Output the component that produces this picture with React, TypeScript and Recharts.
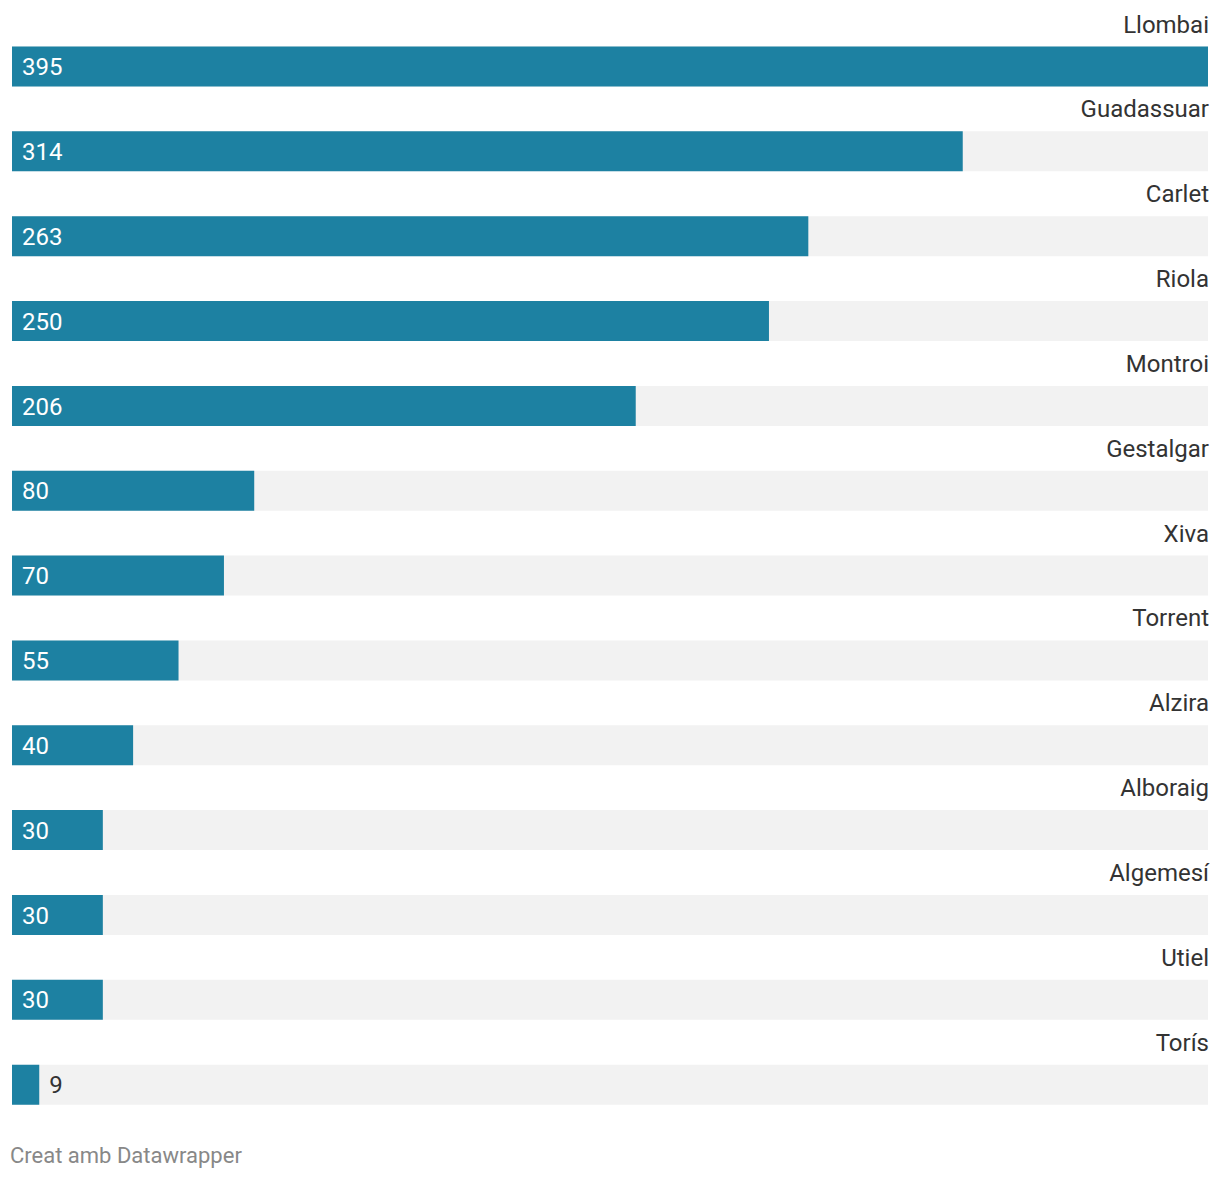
import { Bar, BarChart, LabelList, XAxis, YAxis } from "recharts";

const towns = [
  "Llombai",
  "Guadassuar",
  "Carlet",
  "Riola",
  "Montroi",
  "Gestalgar",
  "Xiva",
  "Torrent",
  "Alzira",
  "Alboraig",
  "Algemesí",
  "Utiel",
  "Torís",
];
const counts = [395, 314, 263, 250, 206, 80, 70, 55, 40, 30, 30, 30, 9];

const data = towns.map((name, i) => ({ name, value: counts[i] }));

const BAR_COLOR = "#1d81a2";
const TRACK_COLOR = "#f2f2f2";
const INK = "#333333";
const FONT = "Roboto, 'Noto Sans', sans-serif";

// value sits inside the bar unless the bar is too short for it
function ValueLabel(props: any) {
  const { x, y, width, height, value } = props;
  const inside = width > 50;
  return (
    <text
      x={inside ? x + 10 : x + width + 10}
      y={y + height / 2}
      dy="0.36em"
      fill={inside ? "#ffffff" : INK}
      fontSize={24}
      fontFamily={FONT}
    >
      {value}
    </text>
  );
}

// town name goes above the bar, right aligned to the track end
function TownTick(props: any) {
  const { x, y, payload } = props;
  return (
    <text
      x={x - 5}
      y={y - 43}
      dy="0.36em"
      textAnchor="end"
      fill={INK}
      fontSize={24}
      fontFamily={FONT}
    >
      {payload.value}
    </text>
  );
}

export default function App() {
  return (
    <div style={{ position: "relative", width: 1204, height: 1166 }}>
      <BarChart
        width={1204}
        height={1122}
        data={data}
        layout="vertical"
        margin={{ top: 16.5, right: 3, bottom: 2.5, left: 4 }}
      >
        <XAxis type="number" domain={[0, 395]} hide />
        <YAxis
          type="category"
          dataKey="name"
          orientation="right"
          width={1}
          axisLine={false}
          tickLine={false}
          tickMargin={0}
          tick={<TownTick />}
          interval={0}
        />
        <Bar
          dataKey="value"
          fill={BAR_COLOR}
          barSize={40}
          background={{ fill: TRACK_COLOR }}
          isAnimationActive={false}
        >
          <LabelList dataKey="value" content={<ValueLabel />} />
        </Bar>
      </BarChart>
      <div
        style={{
          position: "absolute",
          left: 2,
          top: 1135,
          fontFamily: FONT,
          fontSize: 22,
          color: "#888888",
        }}
      >
        Creat amb Datawrapper
      </div>
    </div>
  );
}
